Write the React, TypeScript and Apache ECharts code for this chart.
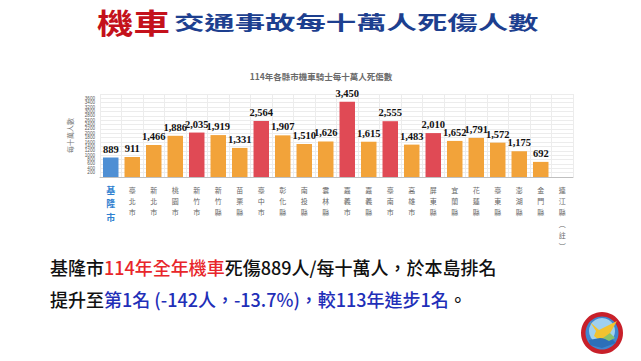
import React, { useEffect, useRef } from "react";
import * as echarts from "echarts";

const categories = [
  "基隆市", "臺北市", "新北市", "桃園市", "新竹市", "新竹縣", "苗栗縣", "臺中市",
  "彰化縣", "南投縣", "雲林縣", "嘉義市", "嘉義縣", "臺南市", "高雄市", "屏東縣",
  "宜蘭縣", "花蓮縣", "臺東縣", "澎湖縣", "金門縣", "連江縣︵註︶",
];
const values: (number | null)[] = [
  889, 911, 1466, 1886, 2035, 1919, 1331, 2564, 1907, 1510, 1626, 3450,
  1615, 2555, 1483, 2010, 1652, 1791, 1572, 1175, 692, null,
];
// colour group per bar: h = highlight (基隆), r = red, o = orange
const groups = [
  "h", "o", "o", "o", "r", "o", "o", "r", "o", "o", "o", "r",
  "o", "r", "o", "r", "o", "o", "o", "o", "o", "o",
];
const yMax = 3800;
const yStep = 200;

const COLORS: Record<string, string> = { h: "#4e8fd4", r: "#e04a55", o: "#f2a33a" };

export default function App() {
  const ref = useRef<HTMLDivElement>(null);
  useEffect(() => {
    document.body.style.margin = "0";
    const chart = echarts.init(ref.current!, undefined, { renderer: "svg" });
    const cjk = '"Noto Sans CJK TC", "Noto Sans", sans-serif';
    chart.setOption({
      animation: false,
      backgroundColor: "#ffffff",
      grid: { left: 100, right: 68, top: 94, bottom: 184, containLabel: false },
      xAxis: {
        type: "category",
        data: categories.map((c, i) =>
          i === 0
            ? { value: c, textStyle: { color: "#2f7fd0", fontSize: 9, lineHeight: 13.2, fontWeight: "bold" } }
            : c
        ),
        axisLine: { lineStyle: { color: "#bfbfbf" } },
        axisTick: { show: false },
        splitLine: { show: true, lineStyle: { color: "#ececec" } },
        axisLabel: {
          interval: 0,
          margin: 7,
          fontSize: 7,
          lineHeight: 11.3,
          color: "#666",
          fontFamily: cjk,
          formatter: (v: string) => v.split("").join("\n"),
        },
      },
      yAxis: {
        type: "value",
        min: 0,
        max: yMax,
        interval: yStep,
        name: "每十萬人數",
        nameLocation: "middle",
        nameRotate: 90,
        nameGap: 22,
        nameTextStyle: { fontSize: 7, color: "#777", fontFamily: cjk },
        axisLine: { show: false },
        axisTick: { show: false },
        splitLine: { lineStyle: { color: "#ececec" } },
        axisLabel: {
          fontSize: 4.6,
          lineHeight: 4.1,
          color: "#555",
          margin: 5,
          fontFamily: "Liberation Sans, sans-serif",
          formatter: (v: number) => String(v),
        },
      },
      series: [
        {
          type: "bar",
          barWidth: "72%",
          data: values.map((v, i) => ({ value: v, itemStyle: { color: COLORS[groups[i]] } })),
          label: {
            show: true,
            position: "top",
            distance: 3,
            fontFamily: '"Liberation Serif", "DejaVu Serif", serif',
            fontWeight: "bold",
            fontSize: 10.5,
            color: "#111",
            formatter: (p: any) => (p.value == null ? "" : Number(p.value).toLocaleString("en-US")),
          },
        },
      ],
      graphic: [
        {
          type: "text",
          x: 97,
          y: 21,
          scaleX: 1.3,
          style: {
            text: "機車",
            fontSize: 28,
            fontWeight: "bold",
            fontFamily: cjk,
            fill: "#c4111b",
            textVerticalAlign: "middle",
          },
        },
        {
          type: "text",
          x: 174,
          y: 22,
          scaleX: 1.6,
          style: {
            text: "交通事故每十萬人死傷人數",
            fontSize: 19,
            fontWeight: "bold",
            fontFamily: cjk,
            fill: "#1d3f8f",
            textVerticalAlign: "middle",
          },
        },
        {
          type: "text",
          x: 321,
          y: 76,
          style: {
            text: "114年各縣市機車騎士每十萬人死傷數",
            fontSize: 8.5,
            fontWeight: "bold",
            fontFamily: cjk,
            fill: "#6a6a6a",
            textAlign: "center",
            textVerticalAlign: "middle",
          },
        },
        {
          type: "text",
          x: 50,
          y: 267,
          style: {
            text: "{k|基隆市}{r|114年全年機車}{k|死傷889人/每十萬人，於本島排名}",
            textVerticalAlign: "middle",
            rich: {
              k: { fontSize: 18, fontWeight: 500, fontFamily: cjk, fill: "#111", color: "#111" },
              r: { fontSize: 18, fontWeight: 500, fontFamily: cjk, fill: "#e8262a", color: "#e8262a" },
            },
          },
        },
        {
          type: "text",
          x: 50,
          y: 299,
          style: {
            text: "{k|提升至}{b|第1名 (-142人，-13.7%)，較113年進步1名}{k|。}",
            textVerticalAlign: "middle",
            rich: {
              k: { fontSize: 18, fontWeight: 500, fontFamily: cjk, fill: "#111", color: "#111" },
              b: { fontSize: 18, fontWeight: 500, fontFamily: cjk, fill: "#1f2fb8", color: "#1f2fb8" },
            },
          },
        },
        { type: "circle", shape: { cx: 602, cy: 333, r: 21 }, style: { fill: "#c8202a" } },
        { type: "circle", shape: { cx: 602, cy: 333, r: 16.5 }, style: { fill: "#3f86cf" } },
        { type: "circle", shape: { cx: 602, cy: 331, r: 13 }, style: { fill: "#9fd0ef" } },
        {
          type: "polygon",
          shape: { points: [[590, 322], [599, 330], [617, 321], [609, 335], [600, 341], [594, 336], [596, 331]] },
          style: { fill: "#f2c230" },
        },
        {
          type: "polygon",
          shape: { points: [[589, 340], [600, 338], [612, 339], [616, 343], [602, 348], [590, 345]] },
          style: { fill: "#2c6fb8" },
        },
        {
          type: "polygon",
          shape: { points: [[603, 338], [610, 333], [615, 338], [609, 341]] },
          style: { fill: "#8cc26a" },
        },
      ],
    });
    return () => chart.dispose();
  }, []);
  return (
    <div
      ref={ref}
      style={{ position: "fixed", left: 0, top: 0, width: 641, height: 361, background: "#fff" }}
    />
  );
}
